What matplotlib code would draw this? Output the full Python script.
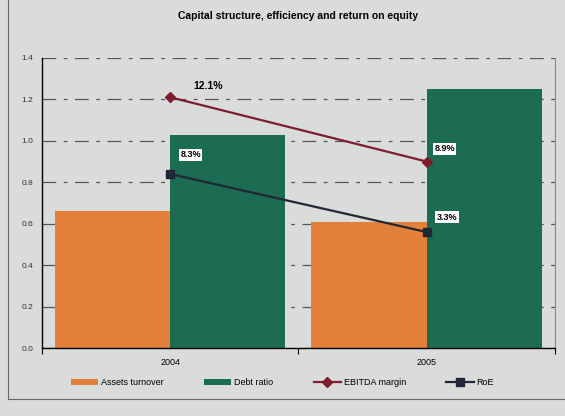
import numpy as np
import matplotlib
matplotlib.use('Agg')
import matplotlib.pyplot as plt
from matplotlib.patches import Rectangle

# ---------------- data ----------------
years = ['2004', '2005']
assets_turnover = [0.66, 0.61]
debt_ratio = [1.03, 1.25]
ebitda_pos = [1.21, 0.90]          # marker heights on left scale
ebitda_txt = ['12.1%', '8.9%']
roe_pos = [0.84, 0.56]
roe_txt = ['8.3%', '3.3%']

plt.rcParams['font.family'] = ['Liberation Sans Narrow', 'Liberation Sans', 'DejaVu Sans']

bg = '#d9dcda'
c_orange = '#e3803a'
c_green = '#1c6b53'
c_ebitda = '#7e1d2e'
c_roe = '#1f2834'

fig = plt.figure(figsize=(5.65, 4.16), dpi=100, facecolor=bg)
ax = fig.add_axes([0.074, 0.163, 0.908, 0.698], facecolor=bg)

# photo frame around the chart
fig.patches.append(Rectangle((0.014, 0.04), 1.2, 1.2, transform=fig.transFigure,
                             fill=False, ec='#666666', lw=0.8))

x = np.arange(len(years))
w = 0.45
b1 = ax.bar(x - w / 2, assets_turnover, w, color=c_orange, label='Assets turnover', zorder=2)
b2 = ax.bar(x + w / 2, debt_ratio, w, color=c_green, label='Debt ratio', zorder=2)

l1, = ax.plot(x, ebitda_pos, color=c_ebitda, lw=1.6, marker='D', ms=5, label='EBITDA margin', zorder=4)
l2, = ax.plot(x, roe_pos, color=c_roe, lw=1.6, marker='s', ms=6, label='RoE', zorder=4)

# labels
ax.text(x[0] + 0.09, ebitda_pos[0] + 0.04, ebitda_txt[0], fontsize=7.5, fontweight='bold', zorder=5)
box = dict(boxstyle='square,pad=0.15', fc='white', ec='none')
ax.text(x[1] + 0.03, ebitda_pos[1] + 0.05, ebitda_txt[1], fontsize=6.5, fontweight='bold', bbox=box, zorder=5)
ax.text(x[0] + 0.04, roe_pos[0] + 0.08, roe_txt[0], fontsize=6.5, fontweight='bold', bbox=box, zorder=5)
ax.text(x[1] + 0.04, roe_pos[1] + 0.06, roe_txt[1], fontsize=6.5, fontweight='bold', bbox=box, zorder=5)

ax.set_xlim(-0.5, 1.5)
ax.set_ylim(0, 1.4)
ax.set_yticks(np.arange(0, 1.41, 0.2))
ax.set_yticklabels(['%.1f' % v for v in np.arange(0, 1.41, 0.2)], fontsize=6, color='#333333')
ax.yaxis.grid(True, color='#555555', lw=0.9, linestyle=(0, (11, 6, 3, 6)), zorder=1)
ax.tick_params(axis='y', length=0, pad=6)

ax.set_xticks([-0.5, 0.5, 1.5])
ax.set_xticklabels([])
ax.set_xticks(x, minor=True)
ax.set_xticklabels(years, minor=True, fontsize=6.5)
ax.tick_params(axis='x', which='major', length=4, direction='out')
ax.tick_params(axis='x', which='minor', length=0, pad=7)

ax.spines['top'].set_visible(False)
ax.spines['right'].set_color('#888888')
ax.spines['left'].set_linewidth(1.0)
ax.spines['bottom'].set_linewidth(1.0)

ax.set_title('Capital structure, efficiency and return on equity', fontsize=7.5,
             fontweight='bold', pad=28)

fig.legend([b1, b2, l1, l2], ['Assets turnover', 'Debt ratio', 'EBITDA margin', 'RoE'],
           loc='lower center', bbox_to_anchor=(0.5, 0.05), ncol=4, frameon=False,
           fontsize=6.5, handlelength=3.0, columnspacing=4.5, handletextpad=0.3)

fig.savefig('out.png', dpi=100, facecolor=bg)
